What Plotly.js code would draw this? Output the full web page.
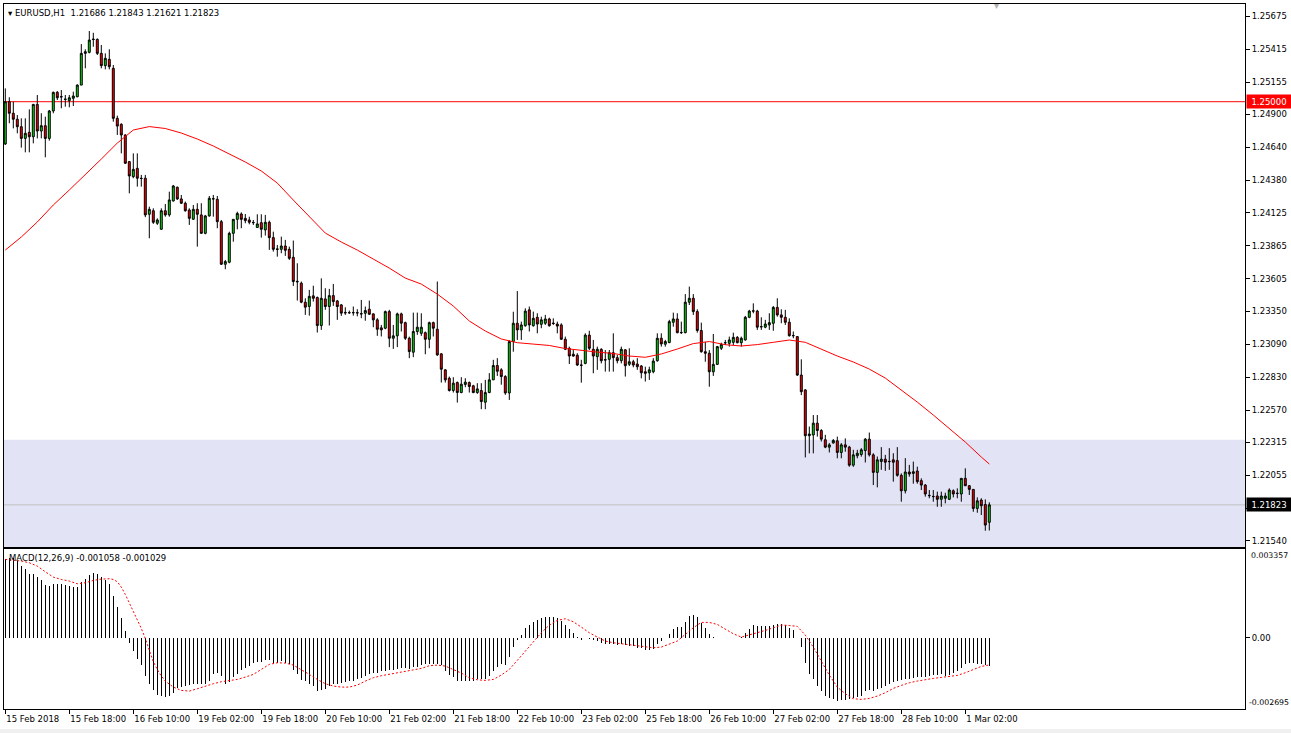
<!DOCTYPE html>
<html>
<head>
<meta charset="utf-8">
<script src="https://cdn.plot.ly/plotly-3.0.1.min.js"></script>
<style>
html,body{margin:0;padding:0;background:#ffffff;}
#chart{width:1291px;height:733px;}
</style>
</head>
<body>
<div id="chart"></div>
<script>
// ---------------- DATA ----------------
const symbolName = "EURUSD,H1";
const lastOHLC = ["1.21686", "1.21843", "1.21621", "1.21823"];
const macdName = "MACD(12,26,9)";
const macdLast = ["-0.001058", "-0.001029"];

const timeLabelIdx = [0,16,32,48,64,80,96,112,128,144,160,176,192,208,224,240];
const timeLabels = ["15 Feb 2018","15 Feb 18:00","16 Feb 10:00","19 Feb 02:00","19 Feb 18:00","20 Feb 10:00",
  "21 Feb 02:00","21 Feb 18:00","22 Feb 10:00","23 Feb 02:00","25 Feb 18:00","26 Feb 10:00",
  "27 Feb 02:00","27 Feb 18:00","28 Feb 10:00","1 Mar 02:00"];

const priceTicks = [1.25675,1.25415,1.25155,1.24900,1.24640,1.24380,1.24125,1.23865,1.23605,1.23350,
  1.23090,1.22830,1.22570,1.22315,1.22055,1.21795,1.21540];
const hiddenTick = 1.21795;   // label covered by the bid price box

const open = [
1.24667,1.25000,1.24909,1.24862,1.24803,1.24711,1.24759,1.24724,1.24979,1.24769,
1.24811,1.24711,1.24927,1.25074,1.25040,1.25018,1.25008,1.25027,1.25039,1.25131,
1.25381,1.25389,1.25494,1.25491,1.25381,1.25284,1.25334,1.25263,1.24869,1.24822,
1.24738,1.24528,1.24409,1.24475,1.24397,1.24397,1.24113,1.24141,1.24042,1.23995,
1.24141,1.24108,1.24218,1.24326,1.24234,1.24200,1.24147,1.24074,1.24152,1.24108,
1.23963,1.24100,1.24236,1.24231,1.24055,1.23719,1.23735,1.23963,1.24073,1.24115,
1.24081,1.24068,1.24049,1.24009,1.24047,1.23990,1.24050,1.23929,1.23840,1.23837,
1.23863,1.23837,1.23774,1.23585,1.23570,1.23420,1.23387,1.23470,1.23457,1.23236,
1.23446,1.23386,1.23472,1.23430,1.23399,1.23340,1.23338,1.23337,1.23338,1.23330,
1.23333,1.23365,1.23328,1.23281,1.23218,1.23215,1.23346,1.23136,1.23155,1.23328,
1.23259,1.23136,1.23026,1.23189,1.23175,1.23180,1.23128,1.23259,1.23207,1.23013,
1.22887,1.22821,1.22724,1.22787,1.22708,1.22772,1.22787,1.22761,1.22708,1.22724,
1.22632,1.22708,1.22808,1.22921,1.22887,1.22834,1.22705,1.23110,1.23254,1.23202,
1.23235,1.23360,1.23235,1.23301,1.23246,1.23254,1.23288,1.23256,1.23248,1.23241,
1.23128,1.23057,1.23010,1.23002,1.22925,1.22938,1.23161,1.23049,1.22991,1.23049,
1.22967,1.22970,1.23022,1.22983,1.22959,1.23045,1.22931,1.22951,1.22933,1.22917,
1.22872,1.22864,1.22872,1.22959,1.23136,1.23089,1.23102,1.23262,1.23288,1.23182,
1.23180,1.23420,1.23451,1.23346,1.23197,1.23030,1.23018,1.22872,1.22930,1.23057,
1.23100,1.23096,1.23104,1.23143,1.23101,1.23123,1.23301,1.23352,1.23350,1.23228,
1.23223,1.23241,1.23254,1.23379,1.23320,1.23301,1.23262,1.23158,1.23149,1.22846,
1.22729,1.22368,1.22374,1.22467,1.22409,1.22336,1.22278,1.22311,1.22328,1.22236,
1.22296,1.22278,1.22136,1.22210,1.22220,1.22251,1.22341,1.22217,1.22079,1.22165,
1.22183,1.22166,1.22178,1.22172,1.22056,1.21934,1.22082,1.22071,1.22090,1.22014,
1.21979,1.21898,1.21890,1.21893,1.21867,1.21875,1.21867,1.21934,1.21915,1.21909,
1.22032,1.21974,1.21945,1.21795,1.21861,1.21826,1.21686];

const high = [
1.25105,1.25035,1.25000,1.24895,1.24869,1.24869,1.24940,1.24979,1.25053,1.24909,
1.24882,1.24935,1.25079,1.25084,1.25092,1.25053,1.25053,1.25079,1.25137,1.25454,
1.25413,1.25557,1.25543,1.25499,1.25447,1.25381,1.25413,1.25289,1.24890,1.24830,
1.24743,1.24528,1.24593,1.24593,1.24423,1.24423,1.24173,1.24160,1.24081,1.24160,
1.24194,1.24291,1.24344,1.24331,1.24265,1.24213,1.24160,1.24186,1.24200,1.24200,
1.24108,1.24257,1.24265,1.24257,1.24068,1.23753,1.23976,1.24076,1.24133,1.24128,
1.24115,1.24094,1.24068,1.24113,1.24113,1.24108,1.24063,1.23976,1.23871,1.23937,
1.23911,1.23858,1.23906,1.23727,1.23583,1.23451,1.23517,1.23550,1.23465,1.23608,
1.23530,1.23525,1.23564,1.23438,1.23406,1.23380,1.23354,1.23386,1.23365,1.23438,
1.23386,1.23433,1.23333,1.23294,1.23241,1.23354,1.23360,1.23241,1.23338,1.23338,
1.23267,1.23149,1.23338,1.23338,1.23333,1.23189,1.23267,1.23267,1.23583,1.23018,
1.22892,1.22834,1.22829,1.22795,1.22829,1.22821,1.22795,1.22769,1.22782,1.22782,
1.22808,1.22861,1.22966,1.22979,1.22900,1.22845,1.23120,1.23345,1.23508,1.23267,
1.23372,1.23386,1.23346,1.23333,1.23306,1.23320,1.23298,1.23293,1.23267,1.23254,
1.23149,1.23070,1.23043,1.23018,1.22966,1.23175,1.23195,1.23123,1.23070,1.23057,
1.23043,1.23043,1.23175,1.23005,1.23070,1.23049,1.23057,1.22966,1.22979,1.22925,
1.22912,1.22912,1.22979,1.23175,1.23175,1.23123,1.23281,1.23338,1.23333,1.23267,
1.23484,1.23543,1.23484,1.23364,1.23259,1.23108,1.23043,1.23170,1.23075,1.23101,
1.23123,1.23149,1.23180,1.23153,1.23149,1.23312,1.23360,1.23411,1.23360,1.23301,
1.23281,1.23333,1.23390,1.23451,1.23364,1.23360,1.23293,1.23189,1.23153,1.22970,
1.22734,1.22440,1.22531,1.22531,1.22420,1.22375,1.22310,1.22341,1.22361,1.22310,
1.22347,1.22288,1.22257,1.22257,1.22270,1.22349,1.22393,1.22230,1.22204,1.22278,
1.22217,1.22270,1.22230,1.22278,1.22071,1.22191,1.22138,1.22164,1.22124,1.22032,
1.21987,1.21940,1.21940,1.21927,1.21927,1.21919,1.21953,1.21945,1.21953,1.22032,
1.22111,1.21979,1.21945,1.21882,1.21875,1.21866,1.21843];

const low = [
1.24659,1.24830,1.24790,1.24751,1.24638,1.24601,1.24601,1.24672,1.24711,1.24711,
1.24562,1.24693,1.24909,1.25013,1.24948,1.24961,1.24956,1.24966,1.25035,1.25131,
1.25263,1.25381,1.25433,1.25368,1.25263,1.25255,1.25255,1.24843,1.24738,1.24593,
1.24509,1.24278,1.24397,1.24331,1.24331,1.24090,1.23924,1.24037,1.24029,1.23990,
1.24094,1.24094,1.24213,1.24226,1.24194,1.24133,1.24029,1.24068,1.23858,1.23958,
1.23955,1.24094,1.24094,1.24003,1.23714,1.23680,1.23727,1.23897,1.23995,1.24003,
1.24042,1.24034,1.24029,1.24005,1.23929,1.23945,1.23832,1.23819,1.23779,1.23806,
1.23785,1.23753,1.23548,1.23433,1.23412,1.23320,1.23314,1.23425,1.23181,1.23202,
1.23360,1.23236,1.23391,1.23281,1.23312,1.23320,1.23328,1.23314,1.23309,1.23294,
1.23274,1.23320,1.23223,1.23155,1.23150,1.23207,1.23066,1.23052,1.23066,1.23189,
1.23123,1.22979,1.22987,1.23163,1.23155,1.23010,1.23057,1.23150,1.22997,1.22787,
1.22787,1.22716,1.22708,1.22629,1.22703,1.22750,1.22708,1.22703,1.22698,1.22577,
1.22577,1.22703,1.22808,1.22839,1.22770,1.22690,1.22650,1.23030,1.23123,1.23123,
1.23227,1.23189,1.23227,1.23175,1.23215,1.23241,1.23227,1.23241,1.23175,1.23123,
1.23043,1.22933,1.22990,1.22917,1.22786,1.22931,1.23043,1.22860,1.22887,1.22938,
1.22873,1.22873,1.22873,1.22938,1.22938,1.22834,1.22917,1.22907,1.22887,1.22820,
1.22795,1.22808,1.22860,1.22951,1.23070,1.23070,1.23097,1.23227,1.23175,1.23170,
1.23175,1.23398,1.23320,1.23180,1.23022,1.22951,1.22754,1.22839,1.22925,1.23043,
1.23083,1.23070,1.23083,1.23096,1.23070,1.23117,1.23294,1.23333,1.23202,1.23202,
1.23215,1.23202,1.23195,1.23306,1.23254,1.23241,1.23149,1.23136,1.22839,1.22688,
1.22197,1.22229,1.22229,1.22361,1.22322,1.22270,1.22236,1.22305,1.22190,1.22190,
1.22242,1.22123,1.22123,1.22190,1.22203,1.22157,1.22204,1.21979,1.21961,1.22099,
1.22091,1.22099,1.22006,1.22045,1.21848,1.21913,1.22045,1.21990,1.21990,1.21940,
1.21888,1.21875,1.21848,1.21808,1.21808,1.21835,1.21861,1.21882,1.21875,1.21848,
1.21971,1.21901,1.21769,1.21761,1.21743,1.21619,1.21621];

const close = [
1.25000,1.24909,1.24862,1.24803,1.24711,1.24751,1.24724,1.24979,1.24769,1.24811,
1.24711,1.24927,1.25074,1.25031,1.25038,1.25020,1.25031,1.25045,1.25131,1.25381,
1.25394,1.25486,1.25490,1.25381,1.25284,1.25342,1.25276,1.24869,1.24808,1.24738,
1.24515,1.24415,1.24467,1.24397,1.24395,1.24108,1.24152,1.24050,1.24068,1.24141,
1.24108,1.24226,1.24336,1.24234,1.24200,1.24141,1.24081,1.24152,1.24113,1.23963,
1.24100,1.24239,1.24234,1.24055,1.23719,1.23740,1.23963,1.24073,1.24120,1.24073,
1.24063,1.24050,1.24047,1.24037,1.23995,1.24050,1.23929,1.23837,1.23837,1.23863,
1.23829,1.23766,1.23583,1.23581,1.23420,1.23381,1.23466,1.23451,1.23236,1.23451,
1.23386,1.23472,1.23425,1.23386,1.23334,1.23336,1.23337,1.23338,1.23336,1.23328,
1.23354,1.23325,1.23281,1.23207,1.23202,1.23346,1.23136,1.23155,1.23328,1.23255,
1.23136,1.23031,1.23189,1.23223,1.23223,1.23128,1.23259,1.23215,1.23005,1.22892,
1.22808,1.22724,1.22782,1.22708,1.22774,1.22790,1.22756,1.22708,1.22737,1.22637,
1.22708,1.22808,1.22921,1.22876,1.22834,1.22705,1.23110,1.23254,1.23202,1.23241,
1.23350,1.23241,1.23293,1.23248,1.23281,1.23288,1.23235,1.23252,1.23232,1.23128,
1.23049,1.22996,1.22996,1.22925,1.22923,1.23161,1.23057,1.22996,1.23049,1.22959,
1.22965,1.23022,1.22983,1.22959,1.23049,1.22920,1.22951,1.22925,1.22912,1.22864,
1.22860,1.22887,1.22956,1.23136,1.23091,1.23110,1.23267,1.23288,1.23180,1.23180,
1.23420,1.23451,1.23346,1.23197,1.23030,1.23018,1.22872,1.22930,1.23070,1.23088,
1.23101,1.23123,1.23143,1.23101,1.23136,1.23301,1.23350,1.23350,1.23223,1.23226,
1.23248,1.23259,1.23379,1.23320,1.23301,1.23262,1.23156,1.23156,1.22846,1.22715,
1.22368,1.22381,1.22467,1.22409,1.22341,1.22278,1.22296,1.22331,1.22236,1.22296,
1.22278,1.22136,1.22217,1.22230,1.22257,1.22341,1.22217,1.22079,1.22178,1.22183,
1.22159,1.22164,1.22159,1.22056,1.21934,1.22082,1.22066,1.22084,1.22006,1.21979,
1.21909,1.21896,1.21888,1.21867,1.21893,1.21893,1.21940,1.21909,1.21913,1.22032,
1.21974,1.21945,1.21795,1.21855,1.21816,1.21664,1.21823];

// moving average
const maIdx = [0,4,8,12,16,20,24,28,32,36,40,44,48,52,56,60,64,68,72,76,80,84,88,92,96,100,
  104,108,112,116,120,124,128,132,136,140,144,148,152,156,160,164,168,172,176,180,184,188,192,196,
  200,204,208,212,216,220,224,228,232,236,240,244,246];
const maVal = [1.23831,1.23934,1.24052,1.24186,1.24304,1.24422,1.24548,1.24674,1.24777,1.24804,
  1.24789,1.24753,1.24706,1.24651,1.24588,1.24525,1.24454,1.24359,1.24225,1.24091,1.23965,1.23894,
  1.23831,1.23760,1.23689,1.23610,1.23563,1.23484,1.23390,1.23272,1.23193,1.23130,1.23101,1.23090,
  1.23079,1.23055,1.23039,1.23027,1.23016,1.22996,1.22986,1.23012,1.23051,1.23094,1.23110,1.23085,
  1.23075,1.23086,1.23104,1.23122,1.23104,1.23047,1.22996,1.22949,1.22893,1.22822,1.22728,1.22633,
  1.22531,1.22428,1.22318,1.22200,1.22145];

// MACD histogram (main line)
const macdHist = [
0.002963,0.003026,0.003001,0.002900,0.002711,0.002585,0.002396,0.002421,0.002295,0.002169,
0.001992,0.001954,0.002042,0.002042,0.002042,0.001992,0.001954,0.001916,0.001916,0.002118,
0.002206,0.002370,0.002433,0.002421,0.002295,0.002169,0.002017,0.001576,0.001160,0.000731,
0.000252,-0.000189,-0.000504,-0.000820,-0.001034,-0.001450,-0.001765,-0.001992,-0.002169,-0.002206,
-0.002244,-0.002206,-0.002080,-0.001916,-0.001866,-0.001828,-0.001790,-0.001765,-0.001765,-0.001740,
-0.001740,-0.001639,-0.001362,-0.001324,-0.001450,-0.001740,-0.001664,-0.001488,-0.001362,-0.001236,
-0.001135,-0.001072,-0.000946,-0.000908,-0.000908,-0.000857,-0.000857,-0.000946,-0.000946,-0.000883,
-0.000946,-0.001009,-0.001236,-0.001387,-0.001614,-0.001639,-0.001765,-0.001828,-0.002017,-0.001992,
-0.001954,-0.001828,-0.001765,-0.001740,-0.001702,-0.001664,-0.001639,-0.001639,-0.001576,-0.001513,
-0.001450,-0.001387,-0.001324,-0.001324,-0.001261,-0.001261,-0.001236,-0.001236,-0.001198,-0.001160,
-0.001160,-0.001198,-0.001110,-0.001110,-0.001034,-0.000983,-0.000983,-0.000983,-0.000983,-0.001034,
-0.001261,-0.001412,-0.001488,-0.001639,-0.001639,-0.001639,-0.001639,-0.001639,-0.001576,-0.001576,
-0.001576,-0.001450,-0.001261,-0.001110,-0.001009,-0.001034,-0.000731,-0.000353,-0.000101,0.000101,
0.000353,0.000479,0.000605,0.000656,0.000731,0.000782,0.000782,0.000782,0.000756,0.000630,
0.000479,0.000315,0.000189,0.000010,-0.000101,-0.000025,-0.000038,-0.000101,-0.000126,-0.000189,
-0.000227,-0.000227,-0.000252,-0.000277,-0.000252,-0.000277,-0.000315,-0.000315,-0.000378,-0.000378,
-0.000479,-0.000479,-0.000441,-0.000252,-0.000126,-0.000025,0.000126,0.000315,0.000403,0.000403,
0.000605,0.000820,0.000845,0.000782,0.000567,0.000378,0.000126,0.000010,-0.000025,-0.000025,
-0.000025,0.000005,-0.000025,-0.000025,0.000025,0.000189,0.000315,0.000466,0.000441,0.000441,
0.000441,0.000441,0.000479,0.000530,0.000530,0.000479,0.000353,0.000277,-0.000025,-0.000353,
-0.000946,-0.001362,-0.001576,-0.001828,-0.002017,-0.002206,-0.002269,-0.002332,-0.002396,-0.002370,
-0.002370,-0.002332,-0.002295,-0.002244,-0.002206,-0.002017,-0.001992,-0.002017,-0.001954,-0.001891,
-0.001828,-0.001740,-0.001664,-0.001639,-0.001614,-0.001576,-0.001576,-0.001513,-0.001488,-0.001488,
-0.001488,-0.001450,-0.001412,-0.001412,-0.001387,-0.001450,-0.001412,-0.001324,-0.001261,-0.001160,
-0.000983,-0.000946,-0.000946,-0.000983,-0.000983,-0.001034,-0.001058];

// MACD signal line
const sigIdx = [0,4,6,8,10,12,14,16,18,20,22,24,26,27,28,29,30,31,32,33,34,35,36,37,38,39,40,
  42,44,46,48,50,52,54,56,58,60,62,64,66,68,70,72,74,76,78,80,82,84,86,88,90,92,94,96,98,100,
  102,104,106,108,110,112,114,116,118,120,122,124,126,128,130,132,134,136,138,140,142,144,146,148,
  150,152,154,156,158,160,162,164,166,168,170,172,174,176,178,180,182,184,186,188,190,192,194,196,
  198,200,202,204,206,208,210,212,214,216,218,220,222,224,226,228,230,232,234,236,238,240,242,244,246];
const sigVal = [0.002963,0.002900,0.002837,0.002711,0.002496,0.002295,0.002206,0.002143,0.002042,0.002080,
  0.002169,0.002219,0.002232,0.002206,0.002118,0.001916,0.001639,0.001324,0.001009,0.000693,0.000353,
  -0.000025,-0.000504,-0.000908,-0.001198,-0.001450,-0.001639,-0.001866,-0.001992,-0.002017,-0.001929,
  -0.001828,-0.001740,-0.001664,-0.001614,-0.001576,-0.001488,-0.001387,-0.001198,-0.001009,-0.000946,
  -0.000958,-0.001034,-0.001198,-0.001387,-0.001576,-0.001740,-0.001828,-0.001866,-0.001866,-0.001790,
  -0.001639,-0.001513,-0.001437,-0.001387,-0.001324,-0.001261,-0.001223,-0.001160,-0.001059,-0.001034,
  -0.001072,-0.001198,-0.001336,-0.001513,-0.001589,-0.001614,-0.001576,-0.001412,-0.001198,-0.000857,
  -0.000504,-0.000151,0.000189,0.000479,0.000656,0.000719,0.000605,0.000403,0.000189,0.000025,
  -0.000126,-0.000189,-0.000227,-0.000265,-0.000315,-0.000366,-0.000378,-0.000353,-0.000252,-0.000126,
  0.000126,0.000378,0.000580,0.000580,0.000504,0.000315,0.000151,0.000025,0.000101,0.000177,0.000277,
  0.000378,0.000479,0.000466,0.000429,0.000101,-0.000353,-0.000883,-0.001412,-0.001866,-0.002118,
  -0.002307,-0.002332,-0.002295,-0.002206,-0.002080,-0.001916,-0.001803,-0.001702,-0.001639,-0.001576,
  -0.001538,-0.001500,-0.001475,-0.001425,-0.001324,-0.001198,-0.001084,-0.001029];

const levelLine = 1.25000;     // horizontal level
const bidPrice = 1.21823;      // current bid
const zoneTop = 1.22336;       // top of shaded support zone
const macdTop = 0.003357, macdBottom = -0.002695;

// ---------------- LAYOUT ----------------
const W = 1291, H = 733;
const px = x => x / W;
const py = y => 1 - y / H;
const idx = open.map((_, i) => i);
const xr = [-0.325, 309.925];
const yr = [1.21491, 1.25770];
const FONT = 'DejaVu Sans';
const nb = s => s.replace(/ /g, '\u00a0');

const traces = [
  {
    type: 'candlestick', x: idx, open: open, high: high, low: low, close: close,
    xaxis: 'x', yaxis: 'y', whiskerwidth: 0, hoverinfo: 'skip',
    increasing: {line: {color: '#000000', width: 1}, fillcolor: '#00e000'},
    decreasing: {line: {color: '#000000', width: 1}, fillcolor: '#ff0000'}
  },
  {
    type: 'scatter', mode: 'lines', x: maIdx, y: maVal, xaxis: 'x', yaxis: 'y',
    line: {color: '#ff0000', width: 1}, hoverinfo: 'skip'
  },
  {
    type: 'bar', x: idx, y: macdHist, xaxis: 'x2', yaxis: 'y2', width: 0.3,
    marker: {color: '#000000', line: {width: 0}}, hoverinfo: 'skip'
  },
  {
    type: 'scatter', mode: 'lines', x: sigIdx, y: sigVal, xaxis: 'x2', yaxis: 'y2',
    line: {color: '#ff0000', width: 1, dash: '2px,2px'}, hoverinfo: 'skip'
  }
];

const axisCommon = {
  showgrid: false, zeroline: false, showline: true, mirror: true,
  linecolor: '#000000', linewidth: 1, fixedrange: true
};

const layout = {
  width: W, height: H,
  margin: {l: 0, r: 0, t: 0, b: 0},
  paper_bgcolor: '#ffffff', plot_bgcolor: '#ffffff',
  showlegend: false, hovermode: false, boxgap: 0.3, bargap: 0,
  font: {family: FONT, size: 9, color: '#000000'},
  xaxis: Object.assign({}, axisCommon, {
    domain: [px(4), px(1245)], range: xr, anchor: 'y',
    showticklabels: false, ticks: '', rangeslider: {visible: false}
  }),
  yaxis: Object.assign({}, axisCommon, {
    domain: [py(547), py(4)], range: yr, anchor: 'x', side: 'right',
    tickvals: priceTicks,
    ticktext: priceTicks.map(v => v === hiddenTick ? '' : v.toFixed(5)),
    ticks: 'outside', ticklen: 4, tickcolor: '#000000',
    tickfont: {family: FONT, size: 8.5, color: '#000000'}
  }),
  xaxis2: Object.assign({}, axisCommon, {
    domain: [px(4), px(1245)], range: xr, anchor: 'y2',
    tickvals: timeLabelIdx, ticktext: timeLabels, tickangle: 0,
    ticks: 'outside', ticklen: 4, tickcolor: '#000000',
    ticklabelposition: 'outside right', ticklabelstandoff: 2,
    tickfont: {family: FONT, size: 8.5, color: '#000000'}
  }),
  yaxis2: Object.assign({}, axisCommon, {
    domain: [py(709), py(549)], range: [macdBottom, macdTop], anchor: 'x2', side: 'right',
    tickvals: [0], ticktext: ['0.00'], ticks: 'outside', ticklen: 4, tickcolor: '#000000',
    tickfont: {family: FONT, size: 8.5, color: '#000000'}
  }),
  shapes: [
    {type: 'rect', xref: 'x domain', yref: 'y', x0: 0, x1: 1, y0: yr[0], y1: zoneTop,
     fillcolor: '#e3e3f6', line: {width: 0}, layer: 'below'},
    {type: 'line', xref: 'x domain', yref: 'y', x0: 0, x1: 1, y0: levelLine, y1: levelLine,
     line: {color: '#ff0000', width: 1}, layer: 'below'},
    {type: 'line', xref: 'x domain', yref: 'y', x0: 0, x1: 1, y0: bidPrice, y1: bidPrice,
     line: {color: '#c0c0c0', width: 1}, layer: 'below'},
    {type: 'rect', xref: 'paper', yref: 'paper', x0: 0, x1: 1, y0: 0, y1: py(729),
     fillcolor: '#f0f0f0', line: {width: 0}, layer: 'below'}
  ],
  annotations: [
    {xref: 'paper', yref: 'paper', x: px(6), y: py(13), xanchor: 'left', yanchor: 'middle',
     showarrow: false, text: nb('▾ ' + symbolName + '  ' + lastOHLC.join(' ')),
     font: {family: FONT, size: 8.5, color: '#000000'}},
    {xref: 'paper', yref: 'paper', x: px(7), y: py(557.5), xanchor: 'left', yanchor: 'middle',
     showarrow: false, text: nb(macdName + ' ' + macdLast.join(' ')),
     font: {family: FONT, size: 8.5, color: '#000000'}},
    {xref: 'paper', yref: 'y', x: px(1246), y: levelLine, xanchor: 'left', yanchor: 'middle',
     showarrow: false, text: levelLine.toFixed(5), bgcolor: '#ff0000', borderpad: 1,
     width: 42, height: 11, align: 'center',
     font: {family: FONT, size: 8.5, color: '#ffffff'}},
    {xref: 'paper', yref: 'y', x: px(1246), y: bidPrice, xanchor: 'left', yanchor: 'middle',
     showarrow: false, text: bidPrice.toFixed(5), bgcolor: '#000000', borderpad: 1,
     width: 42, height: 11, align: 'center',
     font: {family: FONT, size: 8.5, color: '#ffffff'}},
    {xref: 'paper', yref: 'y2', x: px(1249), y: macdTop, xanchor: 'left', yanchor: 'top',
     showarrow: false, text: macdTop.toFixed(6),
     font: {family: FONT, size: 7.8, color: '#000000'}},
    {xref: 'paper', yref: 'y2', x: px(1247), y: macdBottom, xanchor: 'left', yanchor: 'bottom',
     showarrow: false, text: macdBottom.toFixed(6),
     font: {family: FONT, size: 7.8, color: '#000000'}},
    {xref: 'paper', yref: 'paper', x: px(996), y: py(6), xanchor: 'center', yanchor: 'middle',
     showarrow: false, text: '▾', font: {family: FONT, size: 10, color: '#b0b0b0'}}
  ]
};

Plotly.newPlot('chart', traces, layout, {displayModeBar: false, staticPlot: true});
</script>
</body>
</html>
